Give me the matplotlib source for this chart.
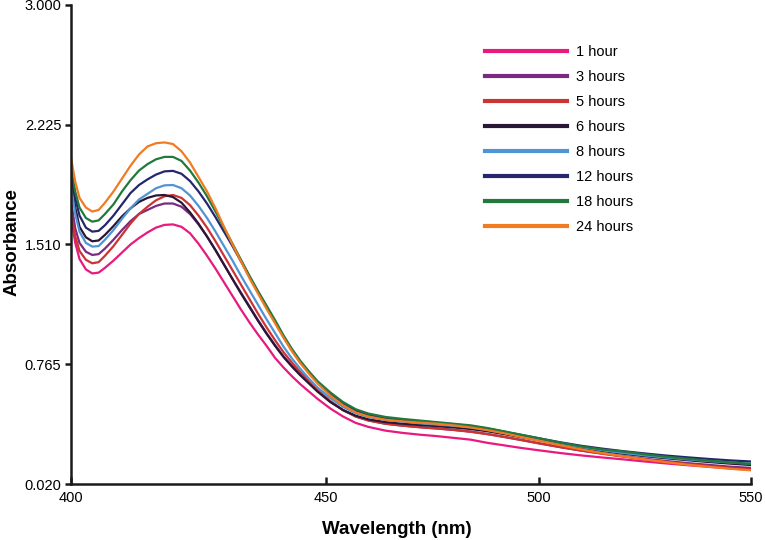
import matplotlib
matplotlib.use('Agg')
import matplotlib.pyplot as plt

plt.rcParams['font.family'] = ['Liberation Sans', 'DejaVu Sans']

# wavelength (nm) -- the axis starts a bit before the "400" label, like the original
wavelength = [390, 391, 392, 393.5, 395, 396.5, 398, 400, 402, 404, 406, 408, 410, 412,
              414, 416, 418, 420, 422, 424, 426, 428, 430, 432, 434, 436, 438, 440,
              442, 444, 446, 448, 451, 454, 457, 460, 464, 468, 472, 476, 480, 484,
              488, 492, 496, 500, 505, 510, 515, 520, 525, 530, 535, 540, 545, 550]

abs_1h = [1.68, 1.52, 1.42, 1.355, 1.33, 1.335, 1.365, 1.41, 1.46, 1.51, 1.55, 1.585,
          1.615, 1.632, 1.635, 1.62, 1.58, 1.515, 1.44, 1.36, 1.275, 1.19, 1.105,
          1.025, 0.95, 0.88, 0.805, 0.745, 0.69, 0.64, 0.595, 0.55, 0.49, 0.44, 0.40,
          0.375, 0.352, 0.338, 0.327, 0.318, 0.307, 0.296, 0.276, 0.26, 0.244, 0.23,
          0.213, 0.198, 0.185, 0.173, 0.16, 0.148, 0.137, 0.127, 0.117, 0.108]
abs_3h = [1.78, 1.61, 1.52, 1.465, 1.445, 1.45, 1.485, 1.54, 1.60, 1.655, 1.70, 1.725,
          1.75, 1.765, 1.765, 1.745, 1.70, 1.635, 1.56, 1.475, 1.385, 1.295, 1.21,
          1.125, 1.04, 0.96, 0.885, 0.815, 0.755, 0.70, 0.65, 0.60, 0.535, 0.48, 0.44,
          0.415, 0.395, 0.383, 0.374, 0.366, 0.357, 0.346, 0.331, 0.313, 0.294, 0.274,
          0.25, 0.228, 0.21, 0.193, 0.177, 0.163, 0.15, 0.139, 0.128, 0.12]
abs_5h = [1.71, 1.56, 1.47, 1.415, 1.393, 1.40, 1.44, 1.50, 1.57, 1.64, 1.70, 1.745,
          1.785, 1.81, 1.818, 1.80, 1.755, 1.69, 1.615, 1.53, 1.44, 1.35, 1.26,
          1.17, 1.08, 0.995, 0.915, 0.84, 0.775, 0.715, 0.66, 0.605, 0.535, 0.48, 0.44,
          0.415, 0.395, 0.383, 0.373, 0.365, 0.356, 0.345, 0.33, 0.312, 0.293, 0.273,
          0.25, 0.228, 0.208, 0.19, 0.173, 0.158, 0.145, 0.133, 0.121, 0.11]
abs_6h = [1.93, 1.74, 1.62, 1.555, 1.53, 1.535, 1.57, 1.625, 1.685, 1.735, 1.775, 1.80,
          1.815, 1.818, 1.805, 1.77, 1.71, 1.64, 1.56, 1.475, 1.385, 1.295, 1.205,
          1.12, 1.035, 0.955, 0.88, 0.81, 0.75, 0.695, 0.645, 0.595, 0.53, 0.48, 0.445,
          0.422, 0.405, 0.395, 0.387, 0.38, 0.372, 0.362, 0.348, 0.33, 0.311, 0.292,
          0.267, 0.245, 0.225, 0.208, 0.193, 0.18, 0.168, 0.157, 0.147, 0.138]
abs_8h = [1.88, 1.70, 1.59, 1.52, 1.497, 1.50, 1.54, 1.60, 1.67, 1.735, 1.79, 1.825,
          1.86, 1.878, 1.88, 1.86, 1.815, 1.75, 1.675, 1.59, 1.50, 1.41, 1.315,
          1.225, 1.135, 1.045, 0.96, 0.875, 0.80, 0.735, 0.675, 0.62, 0.555, 0.50, 0.46,
          0.437, 0.418, 0.408, 0.398, 0.39, 0.382, 0.372, 0.357, 0.338, 0.318, 0.298,
          0.273, 0.25, 0.23, 0.213, 0.198, 0.185, 0.173, 0.163, 0.154, 0.146]
abs_12h = [1.97, 1.80, 1.69, 1.615, 1.59, 1.595, 1.63, 1.69, 1.76, 1.83, 1.88, 1.915,
           1.945, 1.965, 1.968, 1.95, 1.905, 1.84, 1.765, 1.68, 1.59, 1.50, 1.405,
           1.31, 1.215, 1.125, 1.03, 0.935, 0.85, 0.775, 0.715, 0.655, 0.58, 0.52, 0.475,
           0.45, 0.428, 0.418, 0.408, 0.40, 0.392, 0.38, 0.365, 0.345, 0.325, 0.305,
           0.28, 0.258, 0.24, 0.224, 0.21, 0.197, 0.186, 0.176, 0.167, 0.16]
abs_18h = [1.99, 1.84, 1.74, 1.675, 1.652, 1.66, 1.70, 1.76, 1.84, 1.91, 1.97, 2.01,
           2.04, 2.055, 2.055, 2.03, 1.97, 1.895, 1.81, 1.715, 1.615, 1.515, 1.415,
           1.315, 1.22, 1.13, 1.04, 0.945, 0.86, 0.785, 0.72, 0.66, 0.59, 0.53, 0.485,
           0.458, 0.437, 0.425, 0.415, 0.405, 0.395, 0.385, 0.368, 0.347, 0.326, 0.305,
           0.278, 0.254, 0.235, 0.222, 0.205, 0.19, 0.177, 0.165, 0.155, 0.145]
abs_24h = [2.05, 1.90, 1.80, 1.74, 1.715, 1.725, 1.77, 1.84, 1.92, 2.00, 2.07, 2.12,
           2.14, 2.145, 2.135, 2.09, 2.02, 1.93, 1.84, 1.735, 1.62, 1.51, 1.405,
           1.30, 1.205, 1.11, 1.02, 0.93, 0.845, 0.77, 0.705, 0.645, 0.57, 0.51, 0.465,
           0.44, 0.42, 0.41, 0.402, 0.395, 0.385, 0.372, 0.355, 0.335, 0.312, 0.29,
           0.262, 0.236, 0.212, 0.192, 0.173, 0.156, 0.14, 0.127, 0.115, 0.105]

labels = ['1 hour', '3 hours', '5 hours', '6 hours', '8 hours', '12 hours', '18 hours', '24 hours']
colors = ['#e8197f', '#7a2a80', '#cc3333', '#2a1635', '#4f94d4', '#25266e', '#22793c', '#f27b22']
series = [abs_1h, abs_3h, abs_5h, abs_6h, abs_8h, abs_12h, abs_18h, abs_24h]

x_ticks = [390, 450, 500, 550]
x_tick_labels = ['400', '450', '500', '550']
y_ticks = [0.02, 0.765, 1.51, 2.255, 3.0]
y_tick_labels = ['0.020', '0.765', '1.510', '2.225', '3.000']

fig = plt.figure(figsize=(7.65, 5.4), dpi=100)
ax = fig.add_axes([71 / 765, 56 / 540, 680 / 765, 479 / 540])

for vals, lab, col in zip(series, labels, colors):
    ax.plot(wavelength, vals, color=col, linewidth=1.6, label=lab, solid_joinstyle='round')

ax.set_xlim(390, 550)
ax.set_ylim(0.02, 3.0)
ax.set_xticks(x_ticks)
ax.set_xticklabels(x_tick_labels)
ax.set_yticks(y_ticks)
ax.set_yticklabels(y_tick_labels)

for side in ['top', 'right']:
    ax.spines[side].set_visible(False)
for side in ['left', 'bottom']:
    ax.spines[side].set_linewidth(1.8)
    ax.spines[side].set_color('#1a1a1a')

ax.tick_params(axis='y', direction='out', length=4, width=1.8, pad=3, labelsize=10.5, color='#1a1a1a')
ax.tick_params(axis='x', direction='in', length=5, width=1.8, pad=5, labelsize=10.5, color='#1a1a1a')

leg = ax.legend(loc='upper left', bbox_to_anchor=(0.609, 0.917), frameon=False,
                fontsize=10.5, handlelength=5.6, handletextpad=0.6, labelspacing=0.76,
                borderpad=0, borderaxespad=0)
for line in leg.get_lines():
    line.set_linewidth(3)

fig.text(12 / 765, 1 - 242 / 540, 'Absorbance', rotation=90, ha='center', va='center',
         fontsize=13.5, fontweight='bold')
fig.text(397 / 765, 1 - 529 / 540, 'Wavelength (nm)', ha='center', va='center',
         fontsize=13.5, fontweight='bold')

fig.savefig('out.png', dpi=100)
